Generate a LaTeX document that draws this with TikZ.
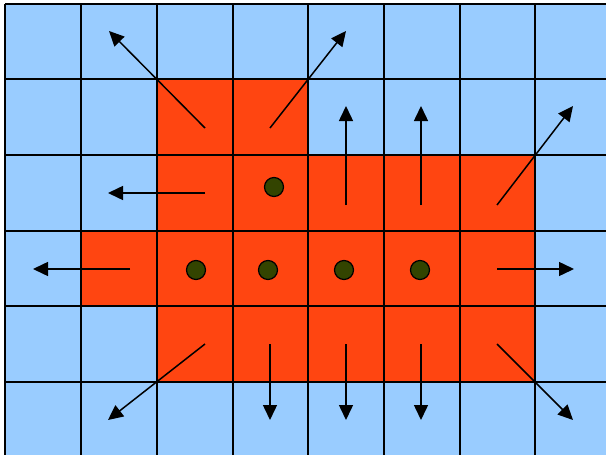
\documentclass[tikz,border=0pt]{standalone}
\usetikzlibrary{arrows.meta}
\definecolor{skyb}{HTML}{99CCFF}
\definecolor{hotred}{HTML}{FF4511}
\definecolor{olivedot}{HTML}{334400}
\tikzset{
  cellblue/.style={fill=skyb},
  cellred/.style={fill=hotred},
  gridline/.style={line width=1.6pt, black},
  flow/.style={line width=1.5pt, -{Triangle[length=15pt,width=14pt]}},
  dot/.style={circle, draw=black, line width=1.2pt, fill=olivedot, minimum size=19pt, inner sep=0pt}
}
\begin{document}
\begin{tikzpicture}[x=1pt,y=-1pt]
\useasboundingbox (0,0) rectangle (606,455);
\fill[white] (0,0) rectangle (606,455);
% background blue
\fill[skyb] (5,4) rectangle (606,455);
% red cells
\fill[hotred] (157,79) rectangle (308,155);
\fill[hotred] (157,155) rectangle (535,382);
\fill[hotred] (81,231) rectangle (157,306);
% grid
\foreach \x in {5,81,157,233,308,384,460,535} \draw[gridline] (\x,4) -- (\x,455);
\foreach \y in {4,79,155,231,306,382} \draw[gridline] (5,\y) -- (606,\y);
% dots
\node[dot] (d1) at (274,187) {};
\node[dot] (d2) at (196,270) {};
\node[dot] (d3) at (268,270) {};
\node[dot] (d4) at (344,270) {};
\node[dot] (d5) at (420,270) {};
% arrow coordinates
\coordinate (s1) at (205,128); \coordinate (t1) at (109,31);
\coordinate (s2) at (270,128); \coordinate (t2) at (346,31);
\coordinate (s3) at (346,205); \coordinate (t3) at (346,106);
\coordinate (s4) at (421,205); \coordinate (t4) at (421,106);
\coordinate (s5) at (497,205); \coordinate (t5) at (573,106);
\coordinate (s6) at (205,193); \coordinate (t6) at (108,193);
\coordinate (s7) at (130,269); \coordinate (t7) at (33,269);
\coordinate (s8) at (497,269); \coordinate (t8) at (574,269);
\coordinate (s9) at (205,344); \coordinate (t9) at (108,420);
\coordinate (s10) at (270,344); \coordinate (t10) at (270,420);
\coordinate (s11) at (346,344); \coordinate (t11) at (346,420);
\coordinate (s12) at (421,344); \coordinate (t12) at (421,420);
\coordinate (s13) at (497,344); \coordinate (t13) at (573,420);
\foreach \i in {1,...,13} \draw[flow] (s\i) -- (t\i);
\end{tikzpicture}
\end{document}
